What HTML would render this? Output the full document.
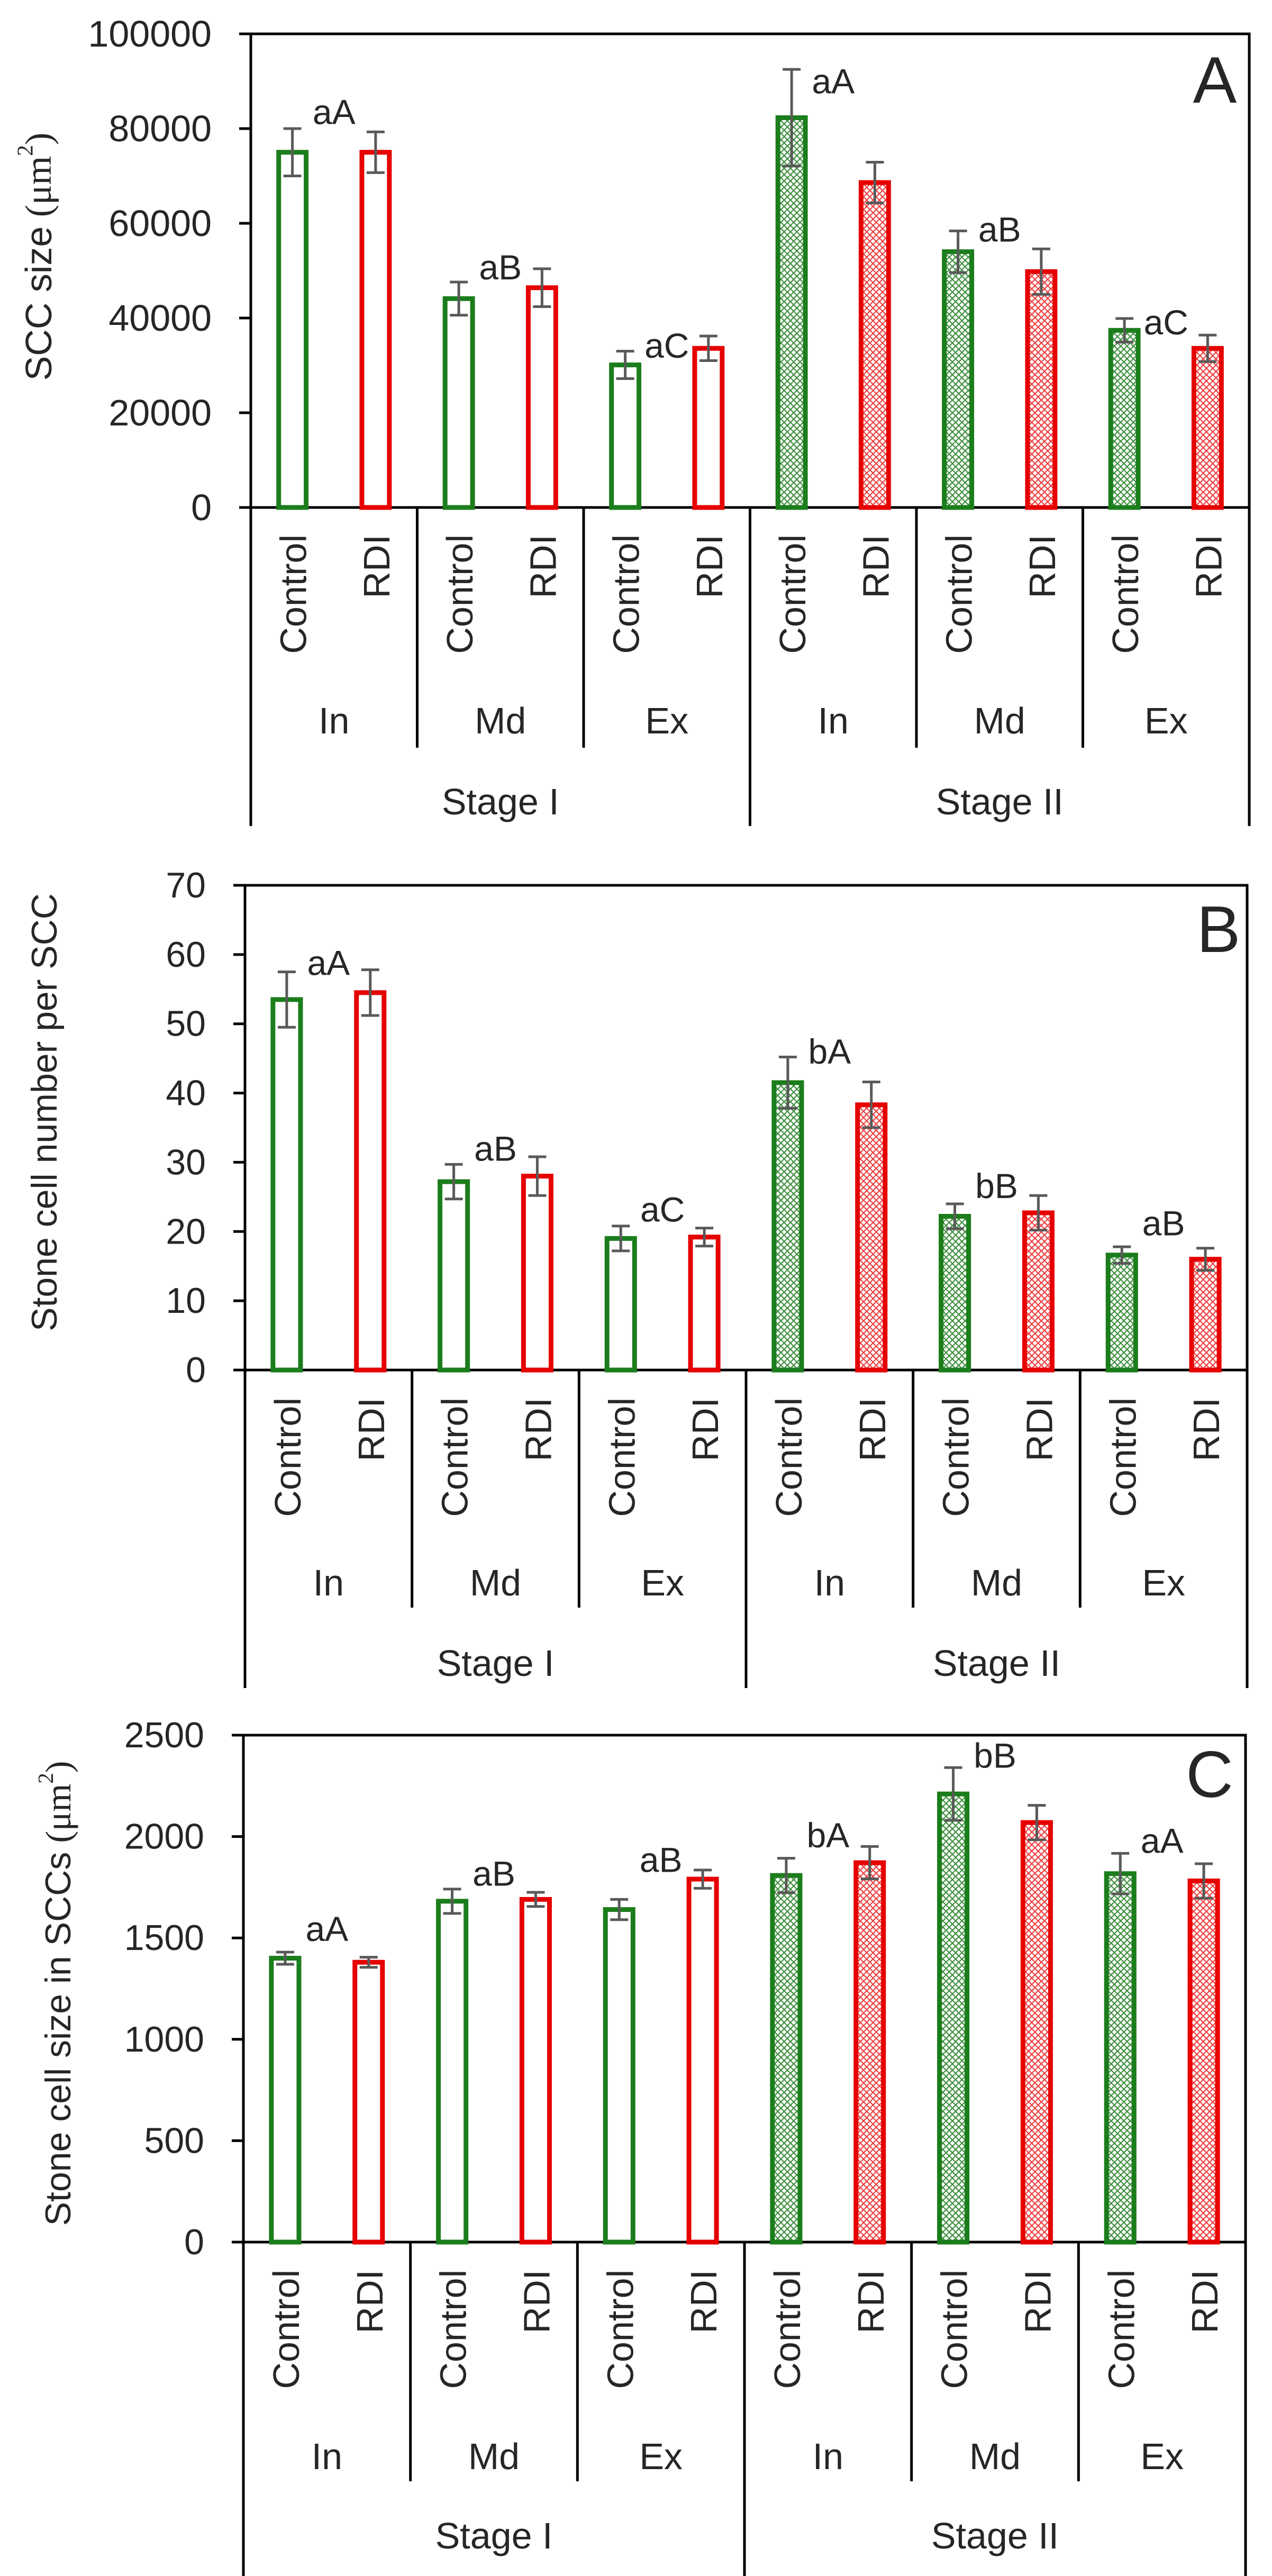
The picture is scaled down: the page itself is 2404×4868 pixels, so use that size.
<!DOCTYPE html>
<html><head><meta charset="utf-8"><title>SCC charts</title>
<style>html,body{margin:0;padding:0;background:#fff}svg{display:block}text{font-family:"Liberation Sans",sans-serif;fill:#262626}</style>
</head><body>
<svg id="chart" width="2404" height="4868" viewBox="0 0 2404 4868" xmlns="http://www.w3.org/2000/svg">
<defs>
<pattern id="hatchG" width="12" height="12" patternUnits="userSpaceOnUse">
<rect width="12" height="12" fill="#fff"/><path d="M0,0L12,12M12,0L0,12" stroke="#3f8f3f" stroke-width="2.2"/></pattern>
<pattern id="hatchR" width="12" height="12" patternUnits="userSpaceOnUse">
<rect width="12" height="12" fill="#fff"/><path d="M0,0L12,12M12,0L0,12" stroke="#ee4040" stroke-width="2.2"/></pattern>
</defs>
</svg>
<script>
const groups = ["In","Md","Ex","In","Md","Ex"];
const stages = ["Stage I","Stage II"];
const treatments = ["Control","RDI"];

const aCtrl = [75000,44100,30100,82300,54000,37400];
const aCtrlErr = [5000,3500,2900,10200,4400,2500];
const aRdi = [75000,46400,33600,68600,49800,33600];
const aRdiErr = [4300,4000,2600,4300,4800,2800];
const aLetters = ["aA","aB","aC","aA","aB","aC"];
const aLetterVal = [83500,50700,34200,90000,58700,39100];
const aTicks = [0,20000,40000,60000,80000,100000];

const bCtrl = [53.5,27.2,19,41.5,22.2,16.6];
const bCtrlErr = [4,2.5,1.8,3.7,1.8,1.2];
const bRdi = [54.5,28,19.2,38.3,22.7,16];
const bRdiErr = [3.3,2.8,1.3,3.3,2.5,1.6];
const bLetters = ["aA","aB","aC","bA","bB","aB"];
const bLetterVal = [58.8,32,23.2,46,26.6,21.2];
const bTicks = [0,10,20,30,40,50,60,70];

const cCtrl = [1400,1681,1640,1808,2210,1817];
const cCtrlErr = [30,60,50,85,130,100];
const cRdi = [1380,1690,1790,1871,2069,1781];
const cRdiErr = [25,35,45,80,85,85];
const cLetters = ["aA","aB","aB","bA","bB","aA"];
const cLetterVal = [1545,1817,1885,2007,2400,1980];
const cTicks = [0,500,1000,1500,2000,2500];

const NS = "http://www.w3.org/2000/svg";
const svg = document.getElementById("chart");
function mk(tag, attrs, parent, txt){
  const e = document.createElementNS(NS, tag);
  for (const k in attrs) e.setAttribute(k, attrs[k]);
  if (txt !== undefined) e.textContent = txt;
  (parent || svg).appendChild(e);
  return e;
}

function panel(id, g, ctrl, ctrlErr, rdi, rdiErr, letters, letterVal, ticks, titleParts, letter){
  const G = mk("g", {});
  
  
  const max = ticks[ticks.length-1];
  const y = v => g.zero - v/max*(g.zero - g.top);
  const cw = (g.right - g.left)/12;
  const xc = c => g.left + (c + 0.5)*cw;
  const bw = cw*0.33;
  // frame
  const f = mk("path", {d:`M${g.left},${g.top}H${g.right}V${g.outer}M${g.left},${g.top}V${g.outer}M${g.left-22},${g.zero}H${g.right}`, stroke:"#000","stroke-width":5, fill:"none"}, G);
  
  
  // ticks
  ticks.forEach(t => {
    const tm = mk("line", {x1:g.left-22, x2:g.left, y1:y(t), y2:y(t), stroke:"#000","stroke-width":5}, G);
    
    
    const tl = mk("text", {x:g.left-74, y:y(t), "text-anchor":"end","dominant-baseline":"central","font-size":g.tf}, G, String(t));
    
    
  });
  // group separators
  for (let k=1;k<6;k++){
    const x = g.left + k*2*cw;
    const bottom = (k===3) ? g.outer : g.inner;
    const s = mk("line", {x1:x, x2:x, y1:g.zero, y2:bottom, stroke:"#000","stroke-width":5}, G);
    
    
  }
  // bars
  groups.forEach((gn, gi) => {
    [0,1].forEach(j => {
      const v = j===0 ? ctrl[gi] : rdi[gi];
      const e = j===0 ? ctrlErr[gi] : rdiErr[gi];
      const c = gi*2 + j;
      const col = j===0 ? "#1b7d1b" : "#e60000";
      const fill = gi>=3 ? (j===0 ? "url(#hatchG)" : "url(#hatchR)") : "#fff";
      const b = mk("rect", {x:xc(c)-bw/2, y:y(v), width:bw, height:g.zero-y(v), fill:fill, stroke:col, "stroke-width":9}, G);
      
      
      const eb = mk("path", {d:`M${xc(c)},${y(v+e)}V${y(v-e)}M${xc(c)-17},${y(v+e)}h34M${xc(c)-17},${y(v-e)}h34`, stroke:"#595959","stroke-width":5, fill:"none"}, G);
      
      
      const lb = mk("text", {transform:`translate(${xc(c)+2},${g.rot}) rotate(-90)`, "text-anchor":"end","dominant-baseline":"central","font-size":g.lf}, G, treatments[j]);
      
      
    });
    const gc = g.left + (gi*2+1)*cw;
    const sl = mk("text", {x:gc, y:letterVal[gi]!==undefined ? y(letterVal[gi]) : 0, "text-anchor":"middle","dominant-baseline":"central","font-size":66}, G, letters[gi]);
    
    
    const gl = mk("text", {x:gc, y:g.sub, "text-anchor":"middle","dominant-baseline":"central","font-size":g.lf}, G, gn);
    
    
  });
  stages.forEach((s, si) => {
    const st = mk("text", {x:g.left + (si*6+3)*cw, y:g.stage, "text-anchor":"middle","dominant-baseline":"central","font-size":g.lf}, G, s);
    
    
  });
  // y title
  const t = mk("text", {transform:`translate(${g.tx},${g.ty}) rotate(-90)`, "text-anchor":"middle","dominant-baseline":"central","font-size":g.tf}, G);
  
  
  mk("tspan", {}, t, titleParts[0]);
  if (titleParts[1]) {
    mk("tspan", {"font-family":"Liberation Serif, serif"}, t, " (μm");
    mk("tspan", {"font-family":"Liberation Serif, serif", "font-size":g.tf*0.6, dy:-g.tf*0.35}, t, "2");
    mk("tspan", {"font-family":"Liberation Serif, serif", dy:g.tf*0.35}, t, ")");
  }
  const L = mk("text", {x:g.lx, y:g.ly, "text-anchor":"middle","font-size":124, fill:"#000"}, G, letter);
  
  
}

panel("a", {left:474,right:2361,top:64,zero:959,inner:1413,outer:1561,rot:1010,sub:1362,stage:1515,tx:73,ty:485,lx:2296,ly:194,tf:70,lf:70},
  aCtrl,aCtrlErr,aRdi,aRdiErr,aLetters,aLetterVal,aTicks,["SCC size",true],"A");
panel("b", {left:463,right:2357,top:1673,zero:2589,inner:3038,outer:3190,rot:2641,sub:2991,stage:3143,tx:84,ty:2102,lx:2303,ly:1799,tf:68,lf:70},
  bCtrl,bCtrlErr,bRdi,bRdiErr,bLetters,bLetterVal,bTicks,["Stone cell number per SCC",false],"B");
panel("c", {left:460,right:2354,top:3279,zero:4237,inner:4689,outer:4868,rot:4289,sub:4642,stage:4792,tx:110,ty:3767,lx:2286,ly:3396,tf:68,lf:70},
  cCtrl,cCtrlErr,cRdi,cRdiErr,cLetters,cLetterVal,cTicks,["Stone cell size in SCCs",true],"C");
</script>
</body></html>
